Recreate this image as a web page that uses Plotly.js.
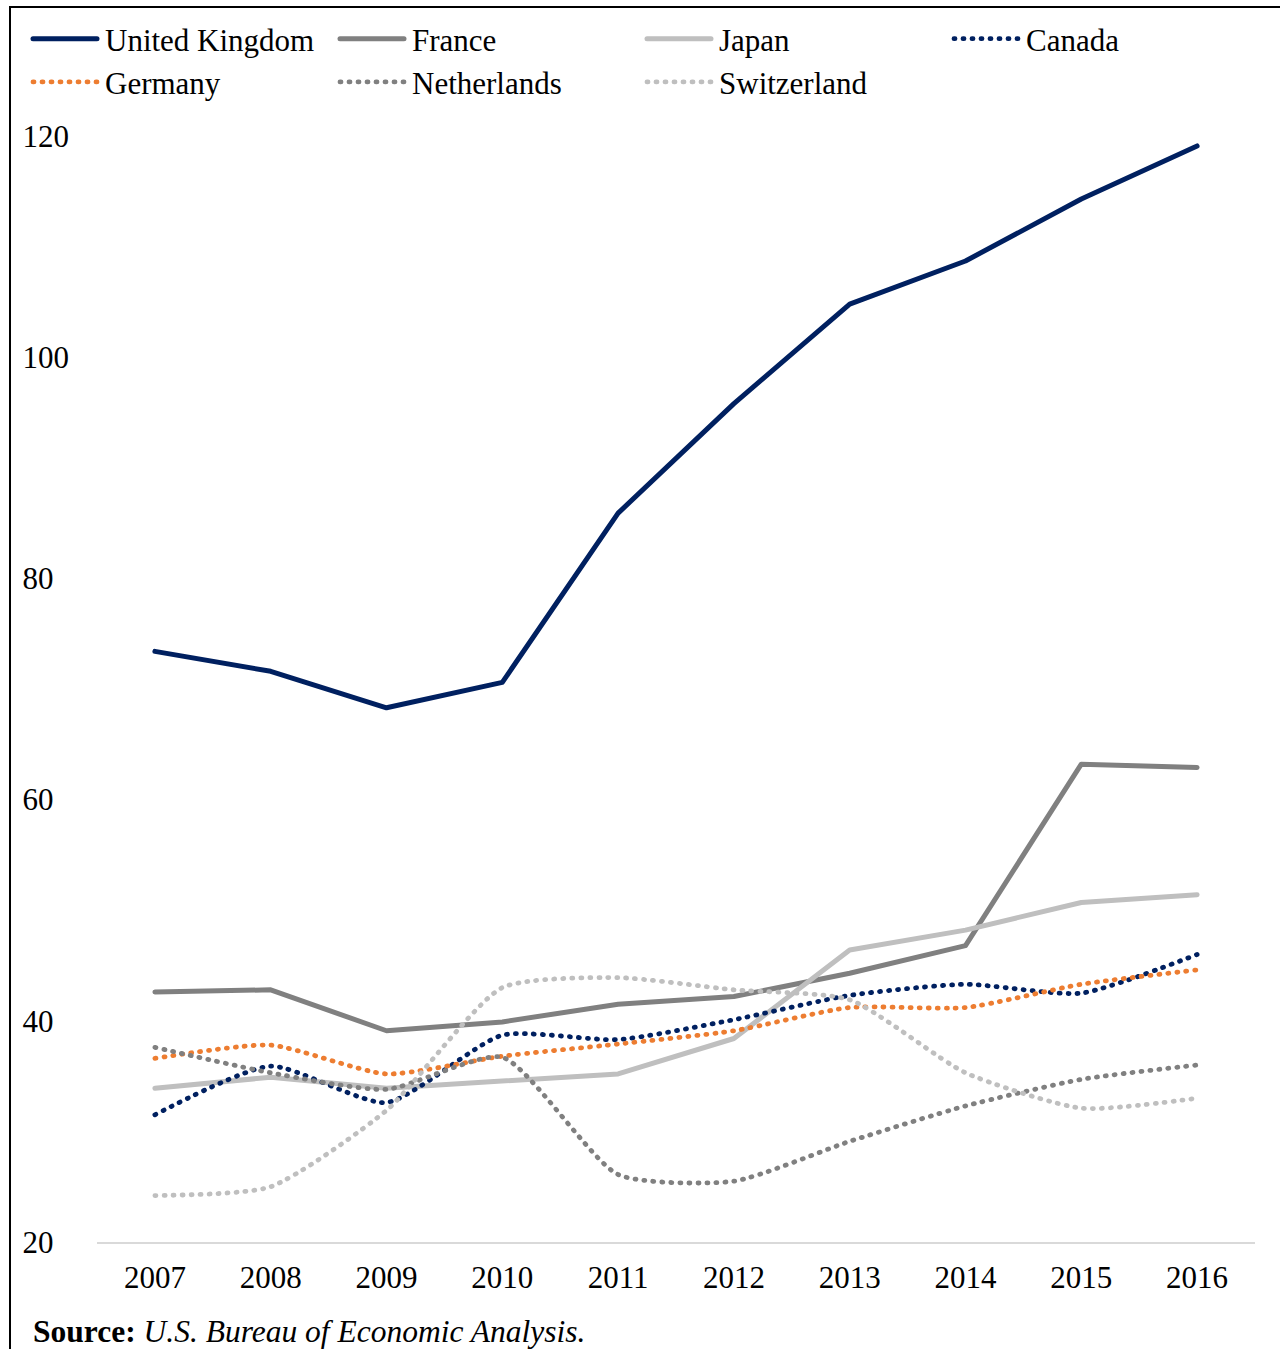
<!DOCTYPE html>
<html>
<head>
<meta charset="utf-8">
<script src="https://cdn.plot.ly/plotly-3.0.1.min.js"></script>
<style>
  html, body { margin: 0; padding: 0; background: #fff; }
  #wrap { position: relative; width: 1280px; height: 1349px; overflow: hidden; }
  #chart { position: absolute; left: 0; top: 0; width: 1280px; height: 1349px; }
  #frame { position: absolute; left: 9px; top: 6px; width: 1400px; height: 1500px;
           border-left: 2px solid #000; border-top: 2px solid #000; pointer-events: none; }
  #chart .js-line { stroke-linecap: round; stroke-linejoin: round; }
</style>
</head>
<body>
<div id="wrap">
  <div id="chart"></div>
  <div id="frame"></div>
</div>
<script>
const years = ['2007','2008','2009','2010','2011','2012','2013','2014','2015','2016'];

const unitedKingdom = [73.4, 71.6, 68.3, 70.6, 85.9, 95.8, 104.8, 108.7, 114.3, 119.1];
const france        = [42.6, 42.8, 39.1, 39.9, 41.5, 42.2, 44.3, 46.8, 63.2, 62.9];
const japan         = [33.9, 34.9, 33.9, 34.6, 35.2, 38.4, 46.4, 48.2, 50.7, 51.4];
const canada        = [31.5, 35.9, 32.6, 38.7, 38.3, 40.1, 42.3, 43.3, 42.5, 46.0];
const germany       = [36.6, 37.8, 35.2, 36.8, 37.9, 39.1, 41.2, 41.2, 43.3, 44.6];
const netherlands   = [37.6, 35.3, 33.8, 36.7, 26.1, 25.5, 29.1, 32.3, 34.7, 36.0];
const switzerland   = [24.2, 25.0, 31.9, 43.0, 43.9, 42.8, 41.9, 35.3, 32.1, 33.0];

const yTickVals = [20, 40, 60, 80, 100, 120];
const yTickText = ['20\u2007', '40\u2007', '60\u2007', '80\u2007', '100', '120'];

const FONT = 'Liberation Serif, Times New Roman, serif';
const DOT = '1px,8px';

function solid(name, y, color) {
  return { type: 'scatter', mode: 'lines', name: name, x: years, y: y,
           line: { color: color, width: 5, shape: 'linear' } };
}
function dotted(name, y, color) {
  return { type: 'scatter', mode: 'lines', name: name, x: years, y: y,
           line: { color: color, width: 4.8, dash: DOT, shape: 'spline', smoothing: 0.6 } };
}

const traces = [
  solid('United Kingdom', unitedKingdom, '#002060'),
  solid('France', france, '#808080'),
  solid('Japan', japan, '#BFBFBF'),
  dotted('Canada', canada, '#002060'),
  dotted('Germany', germany, '#ED7D31'),
  dotted('Netherlands', netherlands, '#808080'),
  dotted('Switzerland', switzerland, '#BFBFBF')
];

const layout = {
  width: 1280, height: 1349,
  margin: { l: 97, r: 25, t: 136, b: 107, autoexpand: false },
  paper_bgcolor: '#fff', plot_bgcolor: '#fff',
  font: { family: FONT, size: 31, color: '#000' },
  showlegend: true,
  legend: {
    orientation: 'h', xref: 'paper', yref: 'paper',
    x: (25 - 97) / 1158, y: (1242 - 12) / 1106, xanchor: 'left', yanchor: 'top',
    itemwidth: 70,
    entrywidth: 222, entrywidthmode: 'pixels',
    font: { family: FONT, size: 31, color: '#000' },
    bgcolor: 'rgba(0,0,0,0)', traceorder: 'normal'
  },
  xaxis: {
    type: 'category', range: [-0.5, 9.5],
    showgrid: false, zeroline: false,
    showline: true, linecolor: '#D9D9D9', linewidth: 1.5,
    ticks: '', ticklabelstandoff: 7,
    tickfont: { family: FONT, size: 31, color: '#000' },
    fixedrange: true
  },
  yaxis: {
    range: [20, 120], tickvals: yTickVals, ticktext: yTickText,
    showgrid: false, zeroline: false, showline: false,
    ticks: '', ticklabelstandoff: 27,
    tickfont: { family: FONT, size: 31, color: '#000' },
    fixedrange: true
  },
  annotations: [{
    xref: 'paper', yref: 'paper', x: (31 - 97) / 1158, y: (1242 - 1331) / 1106,
    xanchor: 'left', yanchor: 'middle', showarrow: false,
    text: '<b>Source:</b> <i>U.S. Bureau of Economic Analysis.</i>',
    font: { family: FONT, size: 31.5, color: '#000' }
  }]
};

Plotly.newPlot('chart', traces, layout, { displayModeBar: false, staticPlot: true }).then(function (gd) {
  // lengthen the legend line samples to fill the reserved symbol width
  gd.querySelectorAll('.legend .legendlines path').forEach(function (p) {
    p.setAttribute('d', 'M8,0h64');
  });
});
</script>
</body>
</html>
